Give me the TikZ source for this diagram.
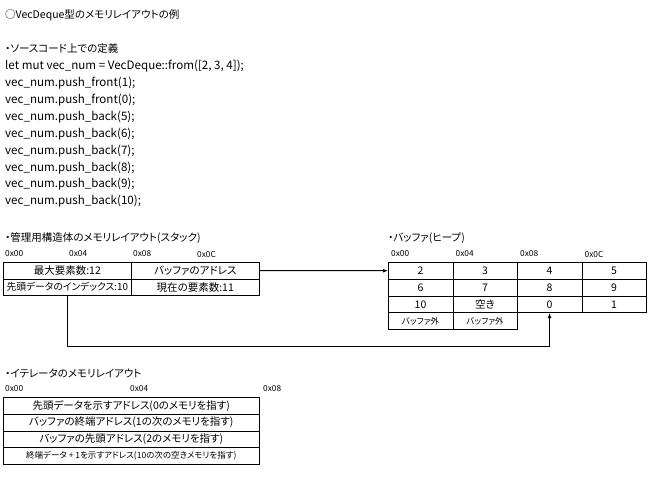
\documentclass[tikz,border=0pt]{standalone}
\usepackage{fontspec}
\setmainfont{Noto Sans CJK JP}[CharacterWidth=AlternateProportional]
\usetikzlibrary{arrows.meta}

\begin{document}
\begin{tikzpicture}[x=1pt, y=-1pt,
    txt/.style={anchor=west, inner sep=0pt, font=\fontsize{10.5}{12}\selectfont},
    code/.style={txt, font=\fontsize{11.6}{13}\selectfont},
    addr/.style={anchor=west, inner sep=0pt, font=\fontsize{8.3}{9}\selectfont},
    cell/.style={draw, line width=0.6pt, anchor=north west, inner sep=0pt,
                 minimum height=16.5pt, font=\fontsize{10.5}{12}\selectfont},
    half/.style={cell, minimum width=128pt},
    buf/.style={cell, minimum width=64.5pt, minimum height=16.8pt},
    iter/.style={cell, minimum width=256pt, minimum height=16.75pt},
    link/.style={line width=1pt, -{Latex[length=5pt,width=4pt]}}]
  \useasboundingbox (0,0) rectangle (650,481);

  % source code
  \node[txt] (title) at (5,15) {○VecDeque型のメモリレイアウトの例};
  \node[txt] (srchead) at (5,49) {・ソースコード上での定義};
  \node[code] (code1) at (5,66) {let mut vec\_num = VecDeque::from([2, 3, 4]);};
  \node[code] (code2) at (5,83) {vec\_num.push\_front(1);};
  \node[code] (code3) at (5,100) {vec\_num.push\_front(0);};
  \node[code] (code4) at (5,117) {vec\_num.push\_back(5);};
  \node[code] (code5) at (5,134) {vec\_num.push\_back(6);};
  \node[code] (code6) at (5,151) {vec\_num.push\_back(7);};
  \node[code] (code7) at (5,168) {vec\_num.push\_back(8);};
  \node[code] (code8) at (5,184) {vec\_num.push\_back(9);};
  \node[code] (code9) at (5,201) {vec\_num.push\_back(10);};

  % stack
  \node[txt] (stackhead) at (5,238) {・管理用構造体のメモリレイアウト(スタック)};
  \foreach \a [count=\i from 0] in {0x00,0x04,0x08,0x0C}
    \node[addr] (sa\i) at (5+64*\i,254) {\a};
  \node[half] (s11) at (3,262) {最大要素数:12};
  \node[half] (s12) at (131,262) {バッファのアドレス};
  \node[half, font=\fontsize{9.8}{12}\selectfont] (s21) at (3,278.5) {先頭データのインデックス:10};
  \node[half] (s22) at (131,278.5) {現在の要素数:11};

  % heap
  \node[txt] (heaphead) at (388,238) {・バッファ(ヒープ)};
  \foreach \a [count=\i from 0] in {0x00,0x04,0x08,0x0C}
    \node[addr] (ba\i) at (391+64.5*\i,254) {\a};
  \foreach \row/\vals in {1/{2,3,4,5}, 2/{6,7,8,9}, 3/{10,空き,0,1}}
    \foreach \v [count=\c] in \vals
      \node[buf] (b\row\c) at (388+64.5*\c-64.5, 262+16.8*\row-16.8) {\v};
  \node[buf, font=\fontsize{8.5}{10}\selectfont] (b41) at (388,312.4) {バッファ外};
  \node[buf, font=\fontsize{8.5}{10}\selectfont] (b42) at (452.5,312.4) {バッファ外};

  \coordinate (bend) at (0,346);
  \draw[link] (s12.east) -- (b11.west);
  \draw[link] (s21.south) |- (b33.south |- bend) -- (b33.south);

  % iterator
  \node[txt] (iterhead) at (5,373) {・イテレータのメモリレイアウト};
  \node[addr] (ia0) at (5,389) {0x00};
  \node[addr] (ia1) at (130,389) {0x04};
  \node[addr] (ia2) at (263,389) {0x08};
  \node[iter] (i1) at (3,397) {先頭データを示すアドレス(0のメモリを指す)};
  \node[iter] (i2) at (3,413.75) {バッファの終端アドレス(1の次のメモリを指す)};
  \node[iter] (i3) at (3,430.5) {バッファの先頭アドレス(2のメモリを指す)};
  \node[iter, font=\fontsize{8.5}{10}\selectfont] (i4) at (3,447.25)
    {終端データ + 1を示すアドレス(10の次の空きメモリを指す)};
\end{tikzpicture}
\end{document}
